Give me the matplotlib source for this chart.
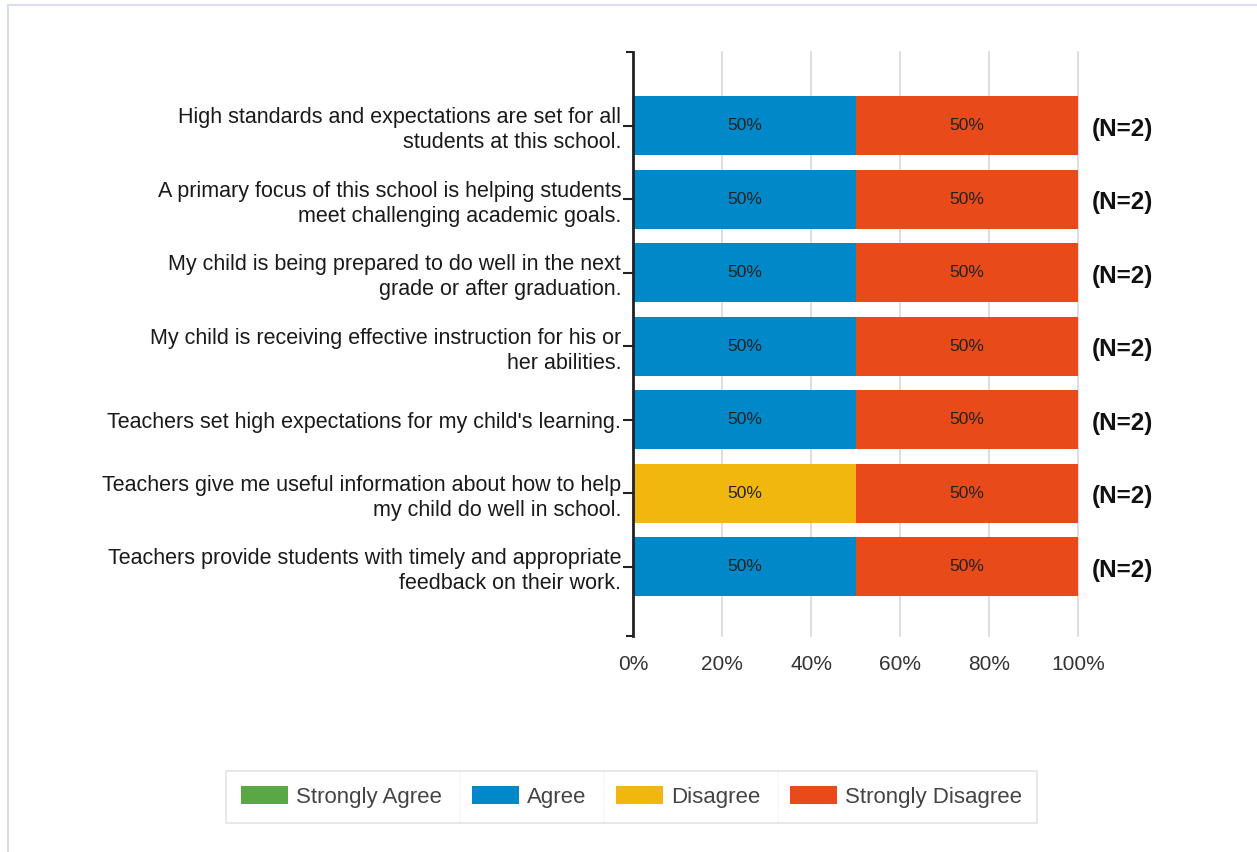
import numpy as np
import matplotlib.pyplot as plt
from matplotlib.lines import Line2D

plt.rcParams["font.family"] = ["Liberation Sans", "DejaVu Sans"]

# survey items, top to bottom
questions = [
    "High standards and expectations are set for all\nstudents at this school.",
    "A primary focus of this school is helping students\nmeet challenging academic goals.",
    "My child is being prepared to do well in the next\ngrade or after graduation.",
    "My child is receiving effective instruction for his or\nher abilities.",
    "Teachers set high expectations for my child's learning.",
    "Teachers give me useful information about how to help\nmy child do well in school.",
    "Teachers provide students with timely and appropriate\nfeedback on their work.",
]
strongly_agree = [0, 0, 0, 0, 0, 0, 0]
agree = [50, 50, 50, 50, 50, 0, 50]
disagree = [0, 0, 0, 0, 0, 50, 0]
strongly_disagree = [50, 50, 50, 50, 50, 50, 50]
n_resp = [2, 2, 2, 2, 2, 2, 2]

series = ["Strongly Agree", "Agree", "Disagree", "Strongly Disagree"]
colors = ["#5AA844", "#0088C8", "#F2B70F", "#E84A19"]

fig = plt.figure(figsize=(12.57, 8.52), dpi=100)
ax = fig.add_axes([0.5036, 0.2535, 0.354, 0.6855])

y = np.arange(len(questions))
data = [strongly_agree, agree, disagree, strongly_disagree]
left = np.zeros(len(questions))
for vals, name, col in zip(data, series, colors):
    vals = np.array(vals, dtype=float)
    ax.barh(y, vals, left=left, height=0.8, color=col, label=name, zorder=2)
    for yi, v, l in zip(y, vals, left):
        if v > 0:
            ax.text(l + v / 2, yi, f"{v:.0f}%", ha="center", va="center",
                    fontsize=12.5, color="#222222", zorder=3)
    left += vals

for yi, n in zip(y, n_resp):
    ax.text(103.2, yi + 0.05, f"(N={n})", ha="left", va="center", fontsize=17.5,
            fontweight="bold", color="#111111", clip_on=False)

ax.set_xlim(0, 100)
ax.set_ylim(6.94, -1.0)
ax.set_xticks([0, 20, 40, 60, 80, 100])
ax.set_xticklabels(["0%", "20%", "40%", "60%", "80%", "100%"])
ax.tick_params(axis="x", length=0, pad=14, labelsize=15, labelcolor="#333333")
ax.set_yticks(y)
ax.set_yticklabels(questions, fontsize=15.5, color="#1a1a1a", linespacing=1.25)
ax.set_yticks([-1.0, 6.94], minor=True)
ax.tick_params(axis="y", which="major", length=7, width=1.5, color="#222222", pad=1.5)
ax.tick_params(axis="y", which="minor", length=5, width=1.5, color="#222222")

ax.grid(True, axis="x", color="#D8D8D8", linewidth=1.2, zorder=0)
for gl in ax.get_xgridlines():
    gl.set_clip_on(False)
for side in ["top", "right", "bottom"]:
    ax.spines[side].set_visible(False)
ax.spines["left"].set_linewidth(2)
ax.spines["left"].set_color("#222222")

leg = fig.legend(loc="center", bbox_to_anchor=(0.5024, 0.0646), ncol=4,
                 fontsize=16, frameon=True, fancybox=False, edgecolor="#DDDDDD",
                 handlelength=2.1, handleheight=0.85, handletextpad=0.36,
                 columnspacing=1.35, borderpad=0.7, labelcolor="#444444")
leg.get_frame().set_linewidth(1.2)

# thin separators between legend entries
fig.canvas.draw()
renderer = fig.canvas.get_renderer()
texts = leg.get_texts()
handles = leg.legend_handles
frame_bb = leg.get_frame().get_window_extent(renderer)
inv = fig.transFigure.inverted()
for i in range(1, len(texts)):
    x_prev = texts[i - 1].get_window_extent(renderer).x1
    x_next = handles[i].get_window_extent(renderer).x0
    xs = (x_prev + x_next) / 2 + 3
    (fx, fy0) = inv.transform((xs, frame_bb.y0))
    (_, fy1) = inv.transform((xs, frame_bb.y1))
    fig.add_artist(Line2D([fx, fx], [fy0, fy1], color="#DDDDDD", linewidth=1.2))

# outer panel border
fig.add_artist(Line2D([0.0064, 0.0064], [0.0, 0.9941], color="#D9DEF0", linewidth=1.5))
fig.add_artist(Line2D([0.0064, 1.0], [0.9941, 0.9941], color="#D9DEF0", linewidth=1.5))

fig.savefig("out.png", dpi=100)
